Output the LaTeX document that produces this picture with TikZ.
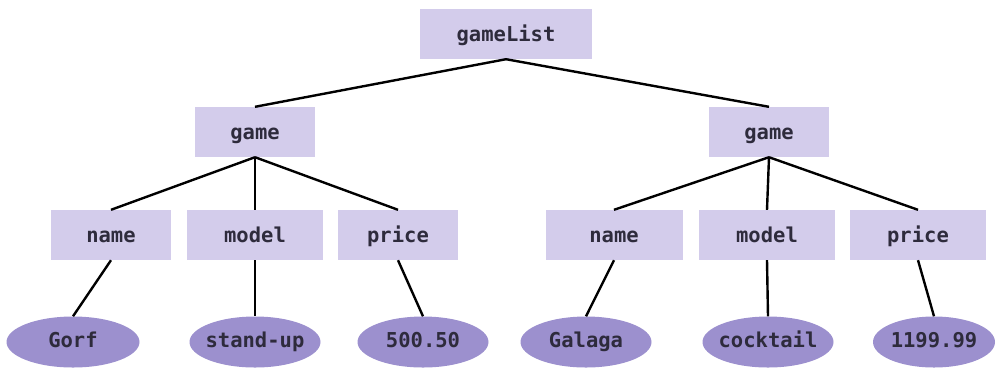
\documentclass[tikz,border=0pt]{standalone}
\usepackage{fontspec}
\setmonofont{DejaVu Sans Mono}
\usetikzlibrary{shapes.geometric}
\definecolor{boxfill}{HTML}{D3CCEB}
\definecolor{ellfill}{HTML}{9C90CE}
\definecolor{txt}{HTML}{2E2B3C}
\tikzset{
  tag/.style={rectangle, fill=boxfill, minimum width=120pt, minimum height=50pt, inner sep=0pt,
    font=\ttfamily\bfseries\fontsize{20.5}{20.5}\selectfont, text=txt, text height=1.45em, text depth=0.02em},
  val/.style={ellipse, fill=ellfill, minimum width=131pt, minimum height=51pt, inner ysep=0pt, inner xsep=-14pt,
    font=\ttfamily\bfseries\fontsize{20.5}{20.5}\selectfont, text=txt, text height=1.2em, text depth=0.02em},
  link/.style={draw=black, line width=2.4pt}
}
\begin{document}
\begin{tikzpicture}[x=1pt,y=-1pt]
\useasboundingbox (0,0) rectangle (998,368);
\node[tag, minimum width=172pt] (gl) at (506,34) {gameList};
\node[tag] (g1) at (255,132) {game};
\node[tag] (g2) at (769,132) {game};
\node[tag] (n1) at (111,235) {name};
\node[tag, minimum width=136pt] (m1) at (255,235) {model};
\node[tag] (p1) at (398,235) {price};
\node[tag, minimum width=137pt] (n2) at (614,235) {name};
\node[tag, minimum width=136pt] (m2) at (767,235) {model};
\node[tag, minimum width=136pt] (p2) at (918,235) {price};
\node[val, minimum width=133pt] (v1) at (73,342) {Gorf};
\node[val] (v2) at (255,342) {stand-up};
\node[val] (v3) at (423,342) {500.50};
\node[val] (v4) at (586,342) {Galaga};
\node[val] (v5) at (768,342) {cocktail};
\node[val, minimum width=122pt] (v6) at (934,342) {1199.99};
\draw[link] (gl.south) -- (g1.north);
\draw[link] (gl.south) -- (g2.north);
\draw[link] (g1.south) -- (n1.north);
\draw[link] (g1.south) -- (m1.north);
\draw[link] (g1.south) -- (p1.north);
\draw[link] (g2.south) -- (n2.north);
\draw[link] (g2.south) -- (m2.north);
\draw[link] (g2.south) -- (p2.north);
\draw[link] (n1.south) -- (v1.north);
\draw[link] (m1.south) -- (v2.north);
\draw[link] (p1.south) -- (v3.north);
\draw[link] (n2.south) -- (v4.north);
\draw[link] (m2.south) -- (v5.north);
\draw[link] (p2.south) -- (v6.north);
\end{tikzpicture}
\end{document}
